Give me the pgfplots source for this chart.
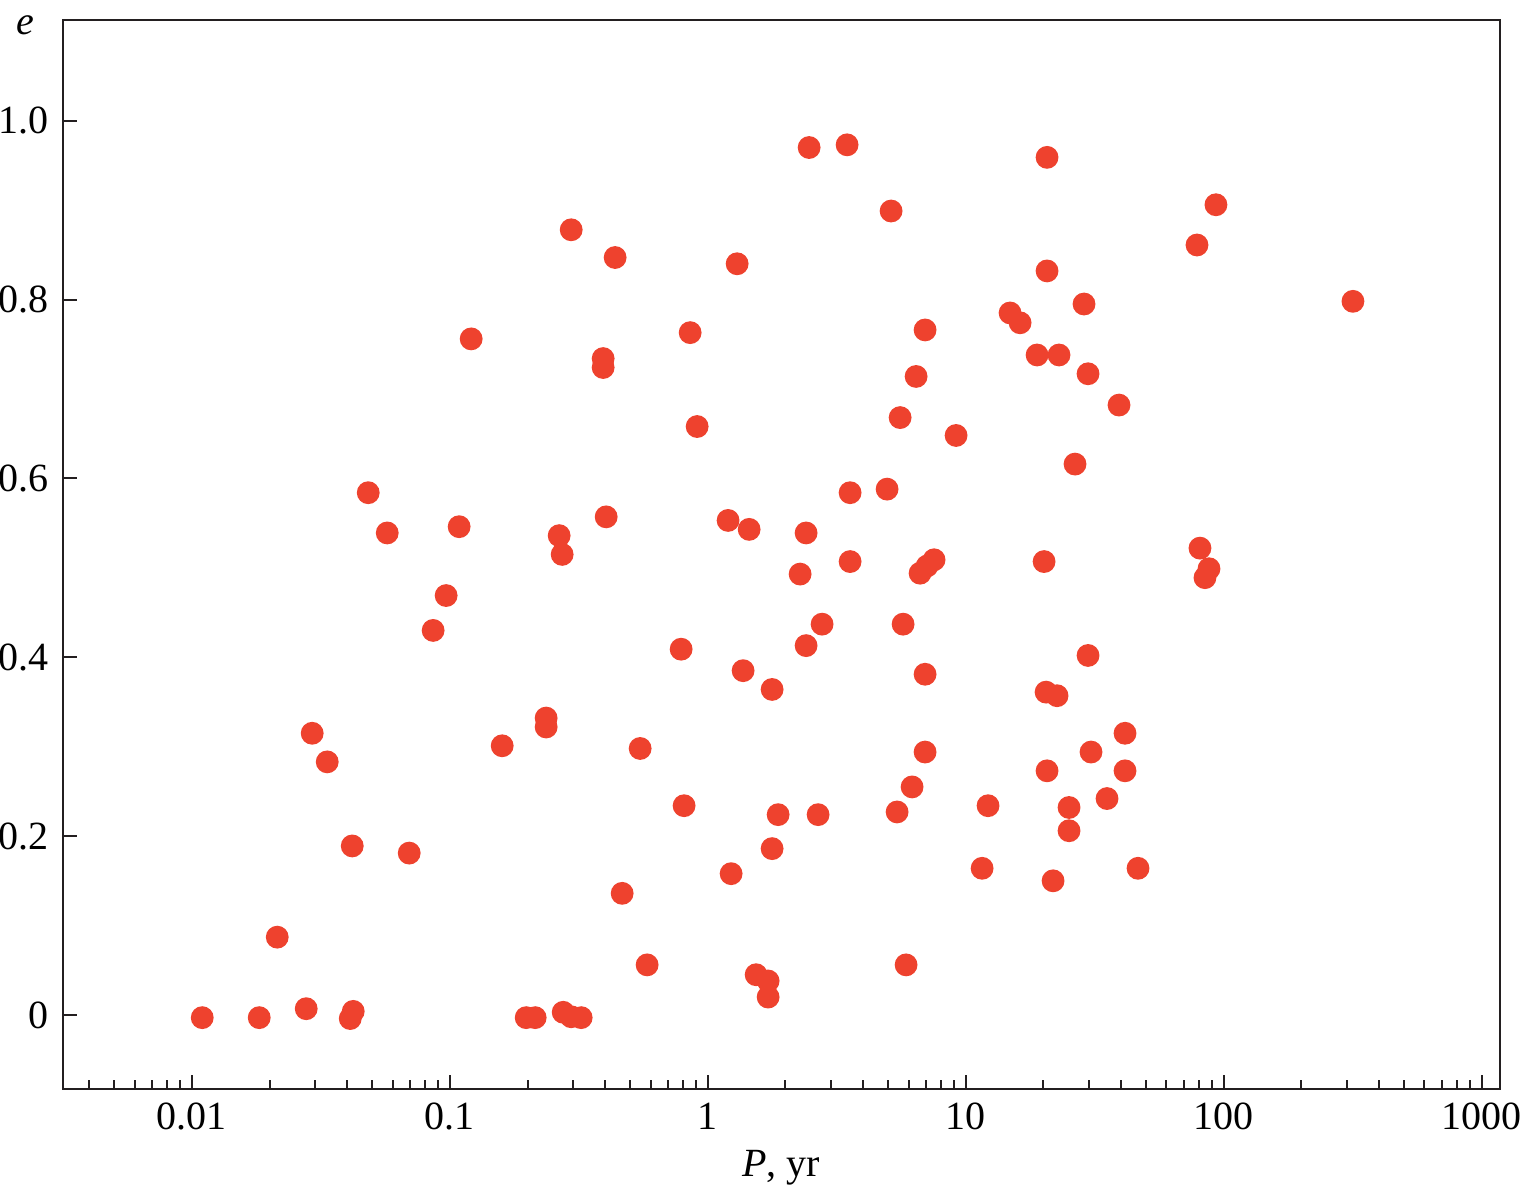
\documentclass[border=0pt]{standalone}
\usepackage{fontspec}
\setmainfont{Liberation Serif}
\usepackage{pgfplots}
\pgfplotsset{compat=1.18}
\definecolor{dotred}{RGB}{238,66,46}
\definecolor{axgray}{RGB}{35,31,32}
\pgfplotstableread{
P e
2.470 0.970
3.467 0.973
20.66 0.959
5.134 0.899
93.3 0.906
0.2953 0.878
0.4371 0.847
1.299 0.840
20.66 0.832
78.8 0.861
317 0.798
28.74 0.795
14.85 0.785
16.24 0.774
0.854 0.763
6.955 0.766
0.1209 0.756
18.90 0.738
22.99 0.738
0.3928 0.734
0.3928 0.724
6.419 0.714
29.79 0.717
39.28 0.682
5.565 0.668
0.909 0.658
9.171 0.648
26.52 0.616
0.04824 0.584
3.561 0.584
4.954 0.588
0.4035 0.557
0.1086 0.546
1.198 0.553
1.446 0.543
0.05715 0.539
0.2652 0.536
0.2724 0.515
2.404 0.539
80.9 0.522
20.12 0.507
3.561 0.507
7.537 0.509
7.079 0.502
6.651 0.494
87.7 0.499
84.6 0.489
2.279 0.493
0.0967 0.469
2.773 0.437
5.715 0.437
0.0861 0.430
0.788 0.409
2.404 0.413
29.79 0.402
1.370 0.385
6.955 0.381
1.775 0.364
20.48 0.361
22.59 0.357
0.2361 0.332
0.2361 0.322
0.02925 0.315
41.44 0.315
0.1595 0.301
0.5465 0.298
6.955 0.294
30.59 0.294
0.03345 0.283
20.66 0.273
41.44 0.273
6.193 0.255
35.29 0.242
0.809 0.234
12.20 0.234
25.14 0.232
5.417 0.227
1.873 0.224
2.676 0.224
25.14 0.206
0.04182 0.189
1.775 0.186
0.06955 0.181
11.57 0.164
46.54 0.164
1.231 0.158
21.80 0.150
0.4654 0.136
0.02141 0.087
0.5816 0.056
5.870 0.056
1.539 0.045
1.713 0.038
1.713 0.020
0.01096 -0.003
0.01823 -0.003
0.02773 0.007
0.04108 -0.004
0.04219 0.004
0.1976 -0.003
0.2141 -0.003
0.2749 0.003
0.2953 -0.002
0.3228 -0.003
}\datatable
\begin{document}
\begin{tikzpicture}
\begin{axis}[
  name=ax,
  scale only axis,
  width=359.25pt, height=267.25pt,
  xmode=log,
  xmin=0.003162, xmax=1178,
  ymin=-0.0828, ymax=1.1126,
  axis line style={axgray, line width=0.55pt},
  every tick/.style={axgray, line width=0.5pt},
  tick align=inside,
  xtick pos=bottom, ytick pos=left,
  xtick={0.01,0.1,1,10,100,1000},
  xticklabels={0.01,0.1,1,10,100,1000},
  minor xtick={0.004,0.005,0.006,0.007,0.008,0.009,0.02,0.03,0.04,0.05,0.06,0.07,0.08,0.09,0.2,0.3,0.4,0.5,0.6,0.7,0.8,0.9,2,3,4,5,6,7,8,9,20,30,40,50,60,70,80,90,200,300,400,500,600,700,800,900},
  ytick={0,0.2,0.4,0.6,0.8,1.0},
  yticklabels={0,0.2,0.4,0.6,0.8,1.0},
  major tick length=3.4pt, minor tick length=2.2pt,
  ticklabel style={font=\fontsize{10}{12}\selectfont, text=black},
  xlabel={\textit{P}, yr},
  ylabel={\textit{e}},
  xlabel style={at={(axis description cs:0.4997,-0.0823)}, anchor=base, font=\fontsize{10}{12}\selectfont},
  ylabel style={at={(axis description cs:-0.0264,0.9869)}, rotate=-90, anchor=base, font=\fontsize{10}{12}\selectfont},
]
\addplot[only marks, mark=*, mark size=2.65pt, color=dotred, mark options={draw=dotred, fill=dotred}] table[x=P, y=e] {\datatable};
\end{axis}
\pgfresetboundingbox
\path (ax.south west) ++(-15.75pt,-25.5pt) rectangle ++(380pt,297.75pt);
\end{tikzpicture}
\end{document}
